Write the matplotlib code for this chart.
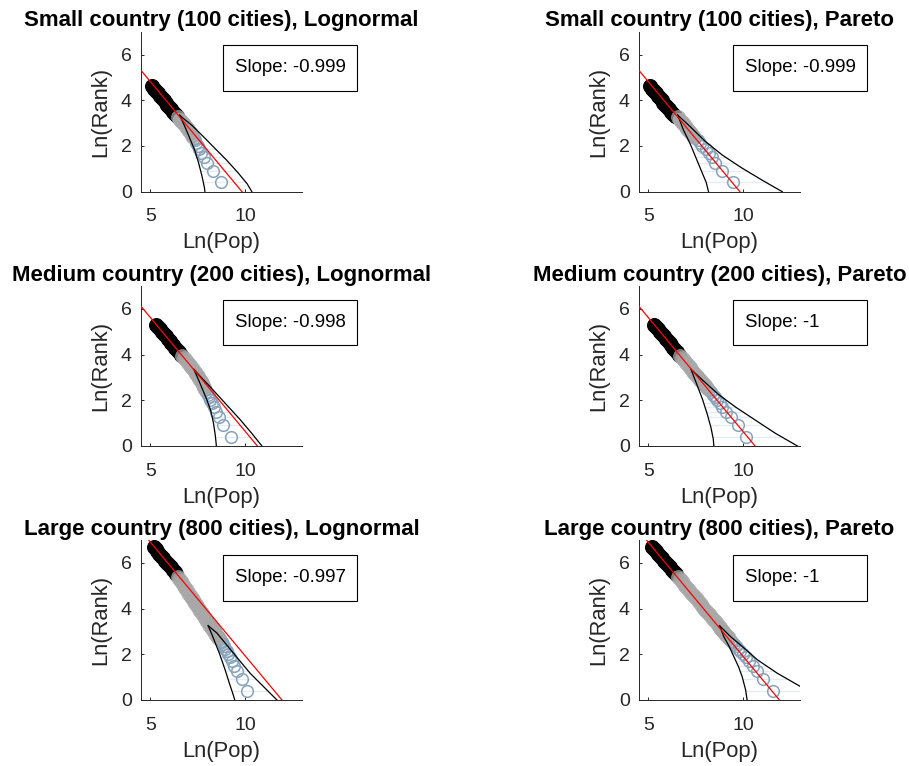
import numpy as np
import matplotlib
matplotlib.use("Agg")
import matplotlib.pyplot as plt
from matplotlib.patches import Rectangle

plt.rcParams['font.family'] = ['Liberation Sans', 'DejaVu Sans']

# ---------------- data: ln(rank - 1/2) against ln(population) ----------------
# largest cities (ranks 2..25), shared ln-rank values
top_lnrank = [0.405, 0.916, 1.253, 1.504, 1.705, 1.872, 2.015, 2.140, 2.251, 2.351,
              2.442, 2.526, 2.603, 2.674, 2.741, 2.803, 2.862, 2.918, 2.970, 3.020,
              3.068, 3.114, 3.157, 3.199]

small_logn_top = [8.74, 8.30, 7.98, 7.81, 7.68, 7.58, 7.49, 7.41, 7.34, 7.28, 7.22, 7.16,
                  7.10, 7.04, 6.98, 6.93, 6.87, 6.81, 6.76, 6.71, 6.66, 6.62, 6.58, 6.54]
small_par_top = [9.45, 8.90, 8.50, 8.35, 8.22, 8.05, 7.85, 7.72, 7.60, 7.48, 7.38, 7.29,
                 7.21, 7.14, 7.07, 7.01, 6.95, 6.89, 6.84, 6.79, 6.74, 6.70, 6.66, 6.62]
medium_logn_top = [9.25, 8.84, 8.62, 8.48, 8.36, 8.26, 8.17, 8.09, 8.02, 7.96, 7.91, 7.86,
                   7.82, 7.78, 7.74, 7.70, 7.66, 7.62, 7.58, 7.54, 7.50, 7.46, 7.43, 7.39]
medium_par_top = [10.15, 9.70, 9.35, 9.10, 8.90, 8.75, 8.62, 8.50, 8.38, 8.28, 8.19, 8.10,
                  8.02, 7.95, 7.88, 7.82, 7.76, 7.70, 7.65, 7.60, 7.55, 7.51, 7.46, 7.42]
large_logn_top = [10.10, 9.82, 9.58, 9.42, 9.30, 9.20, 9.11, 9.03, 8.96, 8.89, 8.83, 8.77,
                  8.71, 8.66, 8.61, 8.56, 8.52, 8.47, 8.43, 8.39, 8.35, 8.31, 8.28, 8.24]
large_par_top = [11.55, 11.02, 10.70, 10.50, 10.30, 10.12, 9.98, 9.85, 9.74, 9.62, 9.52, 9.43,
                 9.35, 9.27, 9.20, 9.13, 9.07, 9.01, 8.95, 8.90, 8.85, 8.80, 8.76, 8.72]

# middle-sized cities (gray)
small_mid_lnrank = [3.25, 3.15, 3.05, 2.95, 2.85, 2.75, 2.65, 2.55, 2.45]
small_logn_mid = [6.47, 6.58, 6.68, 6.78, 6.88, 6.97, 7.06, 7.14, 7.21]
small_par_mid = [6.56, 6.66, 6.76, 6.86, 6.96, 7.06, 7.16, 7.26, 7.36]

medium_mid_lnrank = [3.95, 3.85, 3.75, 3.65, 3.55, 3.45, 3.35, 3.25, 3.15, 3.05, 2.95,
                     2.85, 2.75, 2.65, 2.55]
medium_logn_mid = [6.67, 6.77, 6.87, 6.97, 7.07, 7.16, 7.25, 7.34, 7.42, 7.50, 7.58,
                   7.65, 7.72, 7.79, 7.85]
medium_par_mid = [6.67, 6.77, 6.87, 6.97, 7.07, 7.17, 7.27, 7.37, 7.47, 7.57, 7.67,
                  7.77, 7.87, 7.97, 8.07]

large_mid_lnrank = [5.4, 5.3, 5.2, 5.1, 5.0, 4.9, 4.8, 4.7, 4.6, 4.5, 4.4, 4.3, 4.2, 4.1,
                    4.0, 3.9, 3.8, 3.7, 3.6, 3.5, 3.4, 3.3, 3.2, 3.1, 3.0, 2.9, 2.8, 2.7]
large_logn_mid = [6.45, 6.53, 6.61, 6.69, 6.77, 6.85, 6.93, 7.01, 7.08, 7.16, 7.24, 7.32,
                  7.39, 7.47, 7.55, 7.63, 7.71, 7.79, 7.87, 7.95, 8.03, 8.11, 8.19, 8.27,
                  8.34, 8.42, 8.50, 8.57]
large_par_mid = [6.55, 6.65, 6.75, 6.85, 6.95, 7.05, 7.15, 7.25, 7.35, 7.45, 7.55, 7.65,
                 7.75, 7.85, 7.95, 8.05, 8.15, 8.25, 8.35, 8.45, 8.55, 8.65, 8.75, 8.85,
                 8.95, 9.05, 9.15, 9.25]

# smallest cities (black)
small_low_lnrank = [4.61, 4.5, 4.4, 4.3, 4.2, 4.1, 4.0, 3.9, 3.8, 3.7, 3.6, 3.5, 3.4, 3.3]
small_logn_low = [5.10, 5.21, 5.31, 5.41, 5.51, 5.61, 5.71, 5.81, 5.91, 6.01, 6.11, 6.21,
                  6.31, 6.41]
small_par_low = [5.09, 5.20, 5.30, 5.40, 5.50, 5.60, 5.70, 5.80, 5.90, 6.00, 6.10, 6.20,
                 6.31, 6.41]

medium_low_lnrank = [5.30, 5.2, 5.1, 5.0, 4.9, 4.8, 4.7, 4.6, 4.5, 4.4, 4.3, 4.2, 4.1, 4.0]
medium_logn_low = [5.32, 5.42, 5.52, 5.62, 5.72, 5.82, 5.92, 6.02, 6.12, 6.22, 6.32, 6.42,
                   6.52, 6.62]
medium_par_low = [5.31, 5.41, 5.51, 5.62, 5.72, 5.82, 5.92, 6.02, 6.12, 6.22, 6.32, 6.42,
                  6.52, 6.62]

large_low_lnrank = [6.68, 6.6, 6.5, 6.4, 6.3, 6.2, 6.1, 6.0, 5.9, 5.8, 5.7, 5.6, 5.5]
large_logn_low = [5.20, 5.28, 5.38, 5.48, 5.58, 5.68, 5.78, 5.88, 5.98, 6.08, 6.18, 6.28, 6.38]
large_par_low = [5.20, 5.29, 5.39, 5.50, 5.60, 5.71, 5.81, 5.92, 6.02, 6.13, 6.23, 6.34, 6.44]

# confidence bands (upper / lower), ln pop and ln rank
small_logn_up_x = [6.55, 6.75, 7.2, 7.75, 8.4, 9.0, 9.6, 10.1, 10.35]
small_logn_up_y = [3.35, 3.2, 2.9, 2.45, 1.9, 1.4, 0.85, 0.35, 0.0]
small_logn_lo_x = [6.55, 6.85, 7.1, 7.35, 7.55, 7.72, 7.85, 7.88]
small_logn_lo_y = [3.35, 2.8, 2.3, 1.8, 1.25, 0.7, 0.2, 0.0]

small_par_up_x = [6.55, 7.2, 8.0, 8.9, 9.9, 11.0, 12.05]
small_par_up_y = [3.35, 2.85, 2.2, 1.6, 1.05, 0.5, 0.0]
small_par_lo_x = [6.55, 6.85, 7.2, 7.5, 7.8, 8.05, 8.17]
small_par_lo_y = [3.35, 2.7, 2.1, 1.5, 0.9, 0.4, 0.0]

medium_logn_up_x = [7.3, 7.63, 8.2, 8.86, 9.74, 10.35, 10.88]
medium_logn_up_y = [3.35, 3.05, 2.55, 1.95, 1.15, 0.55, 0.0]
medium_logn_lo_x = [7.3, 7.54, 7.98, 8.2, 8.33, 8.42, 8.47, 8.48]
medium_logn_lo_y = [3.35, 2.9, 2.03, 1.5, 1.0, 0.5, 0.12, 0.0]

medium_par_up_x = [7.25, 7.9, 8.7, 9.6, 10.6, 11.7, 12.85]
medium_par_up_y = [3.35, 2.85, 2.25, 1.7, 1.15, 0.55, 0.0]
medium_par_lo_x = [7.25, 7.55, 7.85, 8.1, 8.3, 8.42, 8.45]
medium_par_lo_y = [3.35, 2.7, 2.05, 1.4, 0.8, 0.3, 0.0]

large_logn_up_x = [8.05, 8.51, 9.38, 10.26, 11.14, 11.67]
large_logn_up_y = [3.25, 2.93, 2.05, 1.17, 0.44, 0.0]
large_logn_lo_x = [8.05, 8.28, 8.66, 8.95, 9.18, 9.38, 9.45]
large_logn_lo_y = [3.25, 2.8, 2.0, 1.3, 0.7, 0.2, 0.0]

large_par_up_x = [8.75, 9.32, 10.0, 10.74, 11.79, 13.3]
large_par_up_y = [3.25, 2.78, 2.3, 1.76, 1.17, 0.45]
large_par_lo_x = [8.75, 8.97, 9.25, 9.5, 9.75, 9.94, 10.12, 10.2]
large_par_lo_y = [3.25, 2.78, 2.35, 1.9, 1.45, 1.02, 0.45, 0.0]

# fitted rank-size regressions
titles = ['Small country (100 cities), Lognormal', 'Small country (100 cities), Pareto',
          'Medium country (200 cities), Lognormal', 'Medium country (200 cities), Pareto',
          'Large country (800 cities), Lognormal', 'Large country (800 cities), Pareto']
slopes = [-0.999, -0.999, -0.998, -1, -0.997, -1]
intercepts = [9.82, 9.81, 10.62, 10.62, 11.90, 11.90]

# ---------------- figure ----------------
W, H = 909, 766
fig = plt.figure(figsize=(W / 100, H / 100), dpi=100)

AX_COLOR = '#262626'
col_left = [140.7, 638.8]
row_bottom = [191.7, 446.0, 700.0]
ax_w, ax_h = 161.5, 160.0
box_top = [45.0, 299.5, 555.0]
box_left = [223.3, 733.3]
box_w, box_h = 134.0, 45.7
box_pad = 12.0

panels = [
    (small_logn_top, small_mid_lnrank, small_logn_mid, small_low_lnrank, small_logn_low,
     small_logn_up_x, small_logn_up_y, small_logn_lo_x, small_logn_lo_y),
    (small_par_top, small_mid_lnrank, small_par_mid, small_low_lnrank, small_par_low,
     small_par_up_x, small_par_up_y, small_par_lo_x, small_par_lo_y),
    (medium_logn_top, medium_mid_lnrank, medium_logn_mid, medium_low_lnrank, medium_logn_low,
     medium_logn_up_x, medium_logn_up_y, medium_logn_lo_x, medium_logn_lo_y),
    (medium_par_top, medium_mid_lnrank, medium_par_mid, medium_low_lnrank, medium_par_low,
     medium_par_up_x, medium_par_up_y, medium_par_lo_x, medium_par_lo_y),
    (large_logn_top, large_mid_lnrank, large_logn_mid, large_low_lnrank, large_logn_low,
     large_logn_up_x, large_logn_up_y, large_logn_lo_x, large_logn_lo_y),
    (large_par_top, large_mid_lnrank, large_par_mid, large_low_lnrank, large_par_low,
     large_par_up_x, large_par_up_y, large_par_lo_x, large_par_lo_y),
]

for k, (top_x, mid_y, mid_x, low_y, low_x, up_x, up_y, lo_x, lo_y) in enumerate(panels):
    r, c = divmod(k, 2)
    left = col_left[c] / W
    bottom = (H - row_bottom[r]) / H
    ax = fig.add_axes([left, bottom, ax_w / W, ax_h / H])

    # faint horizontal spans between the bands for the biggest cities
    ty = np.array(top_lnrank)
    tx = np.array(top_x)
    sel = ty < 2.0
    xl = np.interp(ty[sel], lo_y[::-1], lo_x[::-1])
    xu = np.interp(ty[sel], up_y[::-1], up_x[::-1])
    ax.hlines(ty[sel], xl, xu, colors='#e4edf4', linewidth=1.0, zorder=1)

    ax.plot(low_x, low_y, 'o', ms=10, mfc='black', mec='black', mew=0.8, zorder=2)
    ax.plot(tx, ty, 'o', ms=8.4, mfc='none', mec='#88a3ba', mew=1.1, zorder=3)
    ax.plot(mid_x, mid_y, 'o', ms=10, mfc='#a8a8a8', mec='#a8a8a8', mew=0.6,
            alpha=0.72, zorder=4)

    ax.plot(up_x, up_y, color='black', lw=0.9, zorder=5)
    ax.plot(lo_x, lo_y, color='black', lw=0.9, zorder=5)

    xr = np.array([4.5, 13.0])
    ax.plot(xr, intercepts[k] + slopes[k] * xr, color='red', lw=0.9, zorder=6)

    ax.set_xlim(4.5, 13)
    ax.set_ylim(0, 7)
    ax.set_xticks([5, 10])
    ax.set_yticks([0, 2, 4, 6])
    for s in ('top', 'right'):
        ax.spines[s].set_visible(False)
    for s in ('left', 'bottom'):
        ax.spines[s].set_color(AX_COLOR)
        ax.spines[s].set_linewidth(0.7)
    ax.tick_params(direction='in', length=2.5, width=0.7, color=AX_COLOR,
                   labelcolor=AX_COLOR, labelsize=14)
    ax.tick_params(axis='x', pad=12.0)
    ax.tick_params(axis='y', pad=6.5)

    ax.text(0.5, -56.5 / ax_h, 'Ln(Pop)', transform=ax.transAxes, ha='center',
            va='baseline', fontsize=15.8, color=AX_COLOR)
    ax.text(-40 / ax_w, 0.5, 'Ln(Rank)', transform=ax.transAxes, ha='center', va='center',
            rotation=90, fontsize=15.8, color=AX_COLOR)
    ax.text(0.5, 1.0 + 5.5 / ax_h, titles[k], transform=ax.transAxes, ha='center',
            va='baseline', fontsize=16, fontweight='bold', color='black')

    # slope annotation box
    bx = box_left[c] / W
    by = (H - box_top[r] - box_h) / H
    fig.patches.append(Rectangle((bx, by), box_w / W, box_h / H, transform=fig.transFigure,
                                 facecolor='white', edgecolor='black', lw=0.8, zorder=10))
    fig.text(bx + box_pad / W, by + box_h / 2 / H, 'Slope: %g' % slopes[k], ha='left',
             va='center', fontsize=13.4, color='black', zorder=11)

fig.savefig('out.png', dpi=100)
